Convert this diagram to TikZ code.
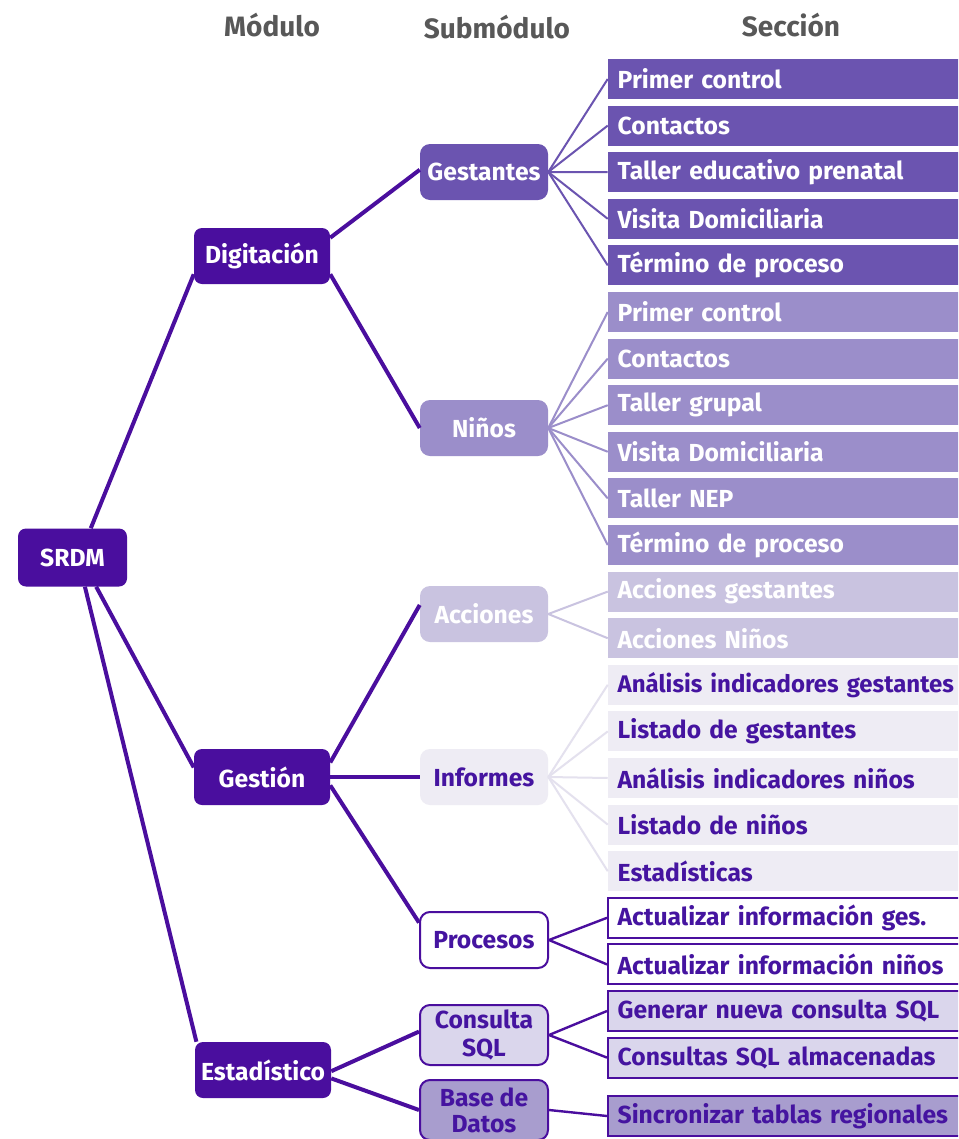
\documentclass[tikz,border=0pt]{standalone}
\usepackage{fontspec}
\setmainfont{Fira Sans}

\definecolor{modc}{RGB}{74,14,158}
\definecolor{txtp}{RGB}{69,20,160}
\definecolor{gestc}{RGB}{107,84,176}
\definecolor{ninoc}{RGB}{155,142,202}
\definecolor{accc}{RGB}{201,195,224}
\definecolor{infc}{RGB}{238,236,244}
\definecolor{infl}{RGB}{228,225,238}
\definecolor{consc}{RGB}{218,214,236}
\definecolor{basec}{RGB}{168,157,206}
\definecolor{headc}{RGB}{88,88,88}

\tikzset{
  every node/.style={font=\fontsize{18.5}{20.5}\selectfont\bfseries},
  hdr/.style={text=headc, font=\fontsize{21}{24}\selectfont\bfseries},
  modbox/.style={fill=modc, text=white, rounded corners=6pt,
    minimum width=102pt, minimum height=42pt, inner sep=0pt},
  subbox/.style={rounded corners=7.5pt, minimum width=96pt,
    minimum height=42pt, inner sep=0pt, align=center},
  secbox/.style={rectangle, minimum height=30pt, text width=254pt,
    inner xsep=7.25pt, inner ysep=0pt, align=left},
  gsec/.style={secbox, fill=gestc, text=white},
  nsec/.style={secbox, fill=ninoc, text=white},
  asec/.style={secbox, fill=accc, text=white},
  isec/.style={secbox, fill=infc, text=txtp},
  psec/.style={secbox, fill=white, draw=modc, line width=1.5pt, text=txtp},
  csec/.style={secbox, fill=consc, draw=modc, line width=1.5pt, text=txtp},
  bsec/.style={secbox, fill=basec, draw=modc, line width=1.5pt, text=txtp},
  mainlink/.style={draw=modc, line width=3pt},
  fan/.style={line width=1.5pt},
}

\begin{document}
\begin{tikzpicture}[x=0.75pt, y=-0.75pt]
\useasboundingbox (0,0) rectangle (958,1139);
\fill[white] (0,0) rectangle (958,1139);
\clip (0,0) rectangle (958,1139);

% column headings
\node[hdr] (hmod) at (272,25) {Módulo};
\node[hdr] (hsub) at (497,27) {Submódulo};
\node[hdr] (hsec) at (791,25) {Sección};

% root and modules
\node[modbox, minimum width=81.75pt, minimum height=43.5pt] (srdm) at (72.5,557.5) {SRDM};
\node[modbox] (dig) at (262,256) {Digitación};
\node[modbox] (ges) at (262,777) {Gestión};
\node[modbox] (est) at (263,1070) {Estadístico};

% submodules
\node[subbox, fill=gestc, text=white] (gst) at (484,172) {Gestantes};
\node[subbox, fill=ninoc, text=white] (nin) at (484,428) {Niños};
\node[subbox, fill=accc, text=white] (acc) at (484,614) {Acciones};
\node[subbox, fill=infc, text=txtp] (inf) at (484,777) {Informes};
\node[subbox, fill=white, draw=modc, line width=1.5pt, text=txtp] (pro) at (484,940) {Procesos};
\node[subbox, fill=consc, draw=modc, line width=1.5pt, text=txtp, minimum height=45pt] (con) at (484,1035) {Consulta\\SQL};
\node[subbox, fill=basec, draw=modc, line width=1.5pt, text=txtp, minimum height=45pt,
      font=\fontsize{18.5}{19.5}\selectfont\bfseries] (bdd) at (484,1110) {Base de\\Datos};

% sections
\node[gsec] (s0) at (787,79) {Primer control};
\node[gsec] (s1) at (787,125.6) {Contactos};
\node[gsec] (s2) at (787,172.2) {Taller educativo prenatal};
\node[gsec] (s3) at (787,218.8) {Visita Domiciliaria};
\node[gsec] (s4) at (787,265.4) {Término de proceso};
\node[nsec] (s5) at (787,312) {Primer control};
\node[nsec] (s6) at (787,358.6) {Contactos};
\node[nsec] (s7) at (787,405.2) {Taller grupal};
\node[nsec] (s8) at (787,451.8) {Visita Domiciliaria};
\node[nsec] (s9) at (787,498.4) {Taller NEP};
\node[nsec] (s10) at (787,545) {Término de proceso};
\node[asec] (s11) at (787,591.6) {Acciones gestantes};
\node[asec] (s12) at (787,638.2) {Acciones Niños};
\node[isec, font=\fontsize{18}{20}\selectfont\bfseries] (s13) at (787,684.8) {\mbox{Análisis indicadores gestantes}};
\node[isec] (s14) at (787,731.4) {Listado de gestantes};
\node[isec] (s15) at (787,778) {Análisis indicadores niños};
\node[isec] (s16) at (787,824.6) {Listado de niños};
\node[isec] (s17) at (787,871.2) {Estadísticas};
\node[psec] (s18) at (787,917.8) {Actualizar información ges.};
\node[psec] (s19) at (787,964.4) {Actualizar información niños};
\node[csec] (s20) at (787,1011) {Generar nueva consulta SQL};
\node[csec] (s21) at (787,1057.6) {Consultas SQL almacenadas};
\node[bsec] (s22) at (787,1116) {Sincronizar tablas regionales};

% root to modules
\draw[mainlink] (srdm.58) -- (dig.195);
\draw[mainlink] (srdm.309) -- (ges.172);
\draw[mainlink] (srdm.293) -- (est.157);

% modules to submodules
\draw[mainlink] (dig.15) -- (gst.178);
\draw[mainlink] (dig.-15) -- (nin.west);
\draw[mainlink] (ges.12) -- (acc.172);
\draw[mainlink] (ges.east) -- (inf.west);
\draw[mainlink] (ges.-7) -- (pro.165);
\draw[mainlink] (est.-1) -- (con.177);
\draw[mainlink] (est.-7) -- (bdd.west);

% submodules to sections
\foreach \k in {0,...,4} \draw[fan, draw=gestc] (gst.east) -- (s\k.west);
\foreach \k in {5,...,10} \draw[fan, draw=ninoc] (nin.east) -- (s\k.west);
\foreach \k in {11,12} \draw[fan, draw=accc] (acc.east) -- (s\k.west);
\foreach \k in {13,...,17} \draw[fan, draw=infl] (inf.east) -- (s\k.west);
\foreach \k in {18,19} \draw[fan, draw=modc, line width=1.8pt] (pro.east) -- (s\k.west);
\foreach \k in {20,21} \draw[fan, draw=modc, line width=1.8pt] (con.east) -- (s\k.west);
\draw[fan, draw=modc, line width=1.8pt] (bdd.east) -- (s22.west);
\end{tikzpicture}
\end{document}
